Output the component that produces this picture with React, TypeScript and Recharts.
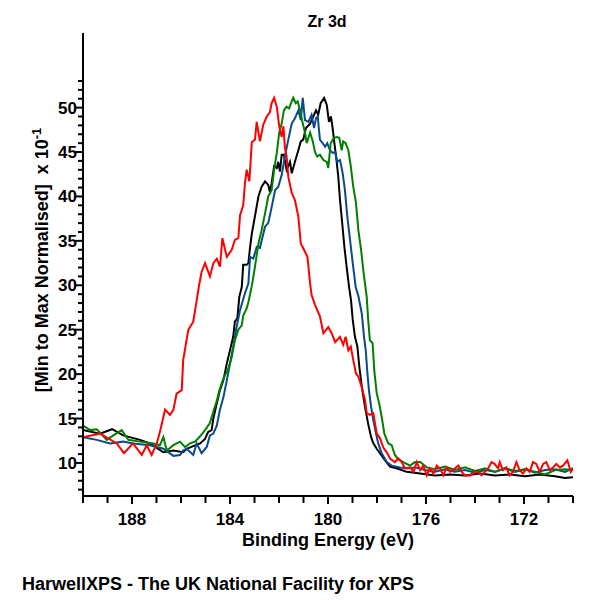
import { LineChart, Line, XAxis, YAxis } from 'recharts'

// Binding energy (eV) / normalised intensity (x 10^-1) pairs
const blackSeries: [number, number][] = [
  [190.0, 13.7], [189.31, 13.3], [188.81, 13.8], [188.36, 13.1], [187.67, 12.6], [187.27, 12.2],
  [186.72, 11.2], [186.31, 11.4], [185.91, 11.2], [185.77, 11.6], [185.5, 11.9], [185.22, 12.2],
  [185.02, 12.7], [184.89, 13.5], [184.75, 13.7], [184.68, 15.0], [184.54, 16.7], [184.41, 18.2],
  [184.27, 19.3], [184.13, 21.2], [184.0, 22.7], [183.87, 24.2], [183.8, 25.9], [183.7, 26.3],
  [183.62, 28.7], [183.52, 29.8], [183.46, 32.3], [183.32, 32.3], [183.25, 32.5], [183.18, 34.3],
  [183.11, 35.8], [182.98, 37.8], [182.84, 40.0], [182.71, 41.1], [182.57, 41.7], [182.44, 41.3],
  [182.37, 40.5], [182.3, 41.5], [182.2, 43.4], [182.09, 43.2], [182.03, 43.9], [181.96, 42.8],
  [181.89, 44.7], [181.8, 44.7], [181.69, 43.0], [181.55, 43.9], [181.48, 42.6], [181.35, 43.9],
  [181.21, 45.2], [181.11, 46.2], [181.01, 46.4], [180.9, 47.7], [180.73, 48.2], [180.6, 49.0],
  [180.49, 49.7], [180.4, 49.2], [180.3, 50.5], [180.16, 51.1], [180.05, 50.3], [179.96, 48.4],
  [179.88, 49.0], [179.81, 47.7], [179.74, 46.0], [179.67, 44.5], [179.58, 42.2], [179.51, 39.6],
  [179.42, 37.0], [179.33, 34.3], [179.24, 32.1], [179.14, 29.8], [179.06, 28.3], [178.99, 26.1],
  [178.9, 24.2], [178.8, 23.1], [178.72, 20.8], [178.62, 18.6], [178.49, 16.3], [178.36, 14.4],
  [178.24, 12.9], [178.15, 12.2], [178.01, 11.6], [177.88, 11.1], [177.67, 10.3], [177.47, 9.6],
  [177.2, 9.4], [176.79, 9.0], [176.24, 8.8], [175.63, 8.6], [175.02, 8.7], [174.41, 8.6],
  [173.8, 8.8], [173.18, 8.6], [172.57, 8.7], [171.96, 8.5], [171.35, 8.7], [170.73, 8.5],
  [170.33, 8.3], [170.0, 8.4],
]

const blueSeries: [number, number][] = [
  [190.0, 12.9], [189.44, 12.6], [188.9, 12.2], [188.36, 12.4], [187.95, 12.2], [187.27, 12.0],
  [186.72, 11.6], [186.31, 10.8], [186.04, 10.9], [185.91, 11.4], [185.77, 11.6], [185.5, 10.9],
  [185.36, 12.2], [185.16, 11.1], [184.95, 11.8], [184.82, 13.1], [184.68, 13.3], [184.54, 14.2],
  [184.41, 16.0], [184.27, 17.4], [184.13, 19.3], [184.0, 21.2], [183.87, 23.1], [183.73, 25.3],
  [183.59, 27.2], [183.39, 29.1], [183.25, 30.2], [183.18, 33.2], [183.05, 33.0], [182.91, 34.3],
  [182.78, 34.2], [182.57, 36.6], [182.44, 37.0], [182.3, 38.8], [182.16, 40.7], [182.03, 41.1],
  [181.89, 42.4], [181.76, 44.5], [181.62, 46.4], [181.48, 48.2], [181.35, 48.8], [181.21, 49.7],
  [181.11, 48.6], [181.03, 51.1], [180.94, 48.6], [180.8, 48.4], [180.67, 49.2], [180.57, 47.7],
  [180.49, 48.8], [180.42, 49.0], [180.33, 46.4], [180.22, 46.0], [180.12, 45.6], [180.03, 46.0],
  [179.92, 45.2], [179.81, 44.9], [179.71, 45.0], [179.62, 43.9], [179.51, 44.1], [179.4, 42.6],
  [179.31, 40.7], [179.21, 37.7], [179.1, 35.1], [178.99, 32.5], [178.87, 29.8], [178.76, 28.8],
  [178.62, 26.8], [178.53, 24.2], [178.46, 22.7], [178.4, 20.4], [178.33, 18.2], [178.24, 16.3],
  [178.15, 14.8], [178.04, 13.3], [177.95, 12.2], [177.81, 11.1], [177.6, 10.1], [177.4, 9.7],
  [177.06, 9.5], [176.79, 9.4], [176.45, 9.5], [176.04, 9.2], [175.63, 9.0], [175.22, 9.3],
  [174.82, 9.0], [174.41, 9.2], [174.0, 8.9], [173.59, 9.2], [173.18, 9.0], [172.78, 9.4],
  [172.37, 9.0], [171.96, 9.3], [171.55, 8.9], [171.14, 9.2], [170.73, 9.3], [170.33, 9.0],
  [170.0, 9.4],
]

const greenSeries: [number, number][] = [
  [190.0, 14.2], [189.71, 13.7], [189.44, 13.8], [189.03, 12.6], [188.76, 13.1], [188.42, 13.7],
  [188.15, 12.6], [187.67, 12.4], [187.13, 12.2], [186.86, 12.0], [186.72, 12.9], [186.58, 11.4],
  [186.31, 12.0], [186.04, 12.4], [185.84, 11.8], [185.63, 12.2], [185.43, 12.4], [185.22, 13.0],
  [185.02, 13.7], [184.82, 14.5], [184.68, 15.8], [184.54, 17.0], [184.41, 18.4], [184.27, 19.5],
  [184.07, 20.6], [183.93, 21.9], [183.8, 23.8], [183.66, 25.0], [183.52, 25.5], [183.46, 26.6],
  [183.32, 27.4], [183.25, 28.1], [183.11, 29.9], [182.98, 32.1], [182.84, 34.7], [182.71, 36.2],
  [182.57, 38.1], [182.44, 40.0], [182.3, 40.7], [182.2, 43.0], [182.09, 44.9], [181.99, 47.2],
  [181.89, 48.2], [181.8, 49.7], [181.69, 50.1], [181.59, 49.9], [181.51, 50.5], [181.42, 51.1],
  [181.32, 50.5], [181.24, 50.7], [181.14, 49.7], [181.03, 48.2], [180.94, 47.2], [180.87, 46.0],
  [180.73, 47.2], [180.62, 46.2], [180.53, 45.0], [180.44, 44.5], [180.33, 44.7], [180.19, 44.1],
  [180.05, 43.9], [179.99, 43.2], [179.89, 46.0], [179.76, 46.6], [179.64, 46.7], [179.54, 46.6],
  [179.44, 45.2], [179.38, 46.2], [179.28, 46.0], [179.17, 45.2], [179.07, 43.4], [178.97, 41.1],
  [178.86, 39.3], [178.76, 36.2], [178.65, 34.0], [178.56, 31.7], [178.49, 30.2], [178.42, 28.7],
  [178.36, 26.1], [178.29, 23.8], [178.18, 23.5], [178.11, 20.4], [178.01, 17.8], [177.91, 16.7],
  [177.81, 15.2], [177.7, 13.3], [177.54, 12.2], [177.4, 12.0], [177.27, 10.9], [177.13, 10.4],
  [176.93, 10.1], [176.65, 9.7], [176.45, 10.1], [176.24, 10.1], [175.97, 9.5], [175.63, 9.3],
  [175.22, 9.6], [174.82, 9.2], [174.41, 9.5], [174.0, 9.1], [173.59, 9.4], [173.18, 9.0],
  [172.78, 9.4], [172.37, 9.1], [171.96, 9.3], [171.55, 9.0], [171.14, 8.7], [170.73, 9.2],
  [170.33, 9.3], [170.0, 9.2],
]

const redSeries: [number, number][] = [
  [190.0, 12.9], [189.3, 13.3], [188.62, 12.2], [188.33, 11.1], [187.96, 12.2], [187.6, 10.9],
  [187.4, 12.0], [187.2, 10.9], [186.99, 12.2], [186.86, 13.5], [186.65, 16.0], [186.45, 15.4],
  [186.31, 16.0], [186.18, 17.8], [185.97, 18.2], [185.91, 21.6], [185.7, 25.0], [185.5, 25.9],
  [185.36, 28.3], [185.25, 30.2], [185.16, 31.5], [185.02, 32.5], [184.82, 31.0], [184.68, 32.5],
  [184.54, 33.0], [184.41, 32.1], [184.31, 35.3], [184.13, 33.2], [183.93, 34.0], [183.8, 35.1],
  [183.66, 35.3], [183.59, 37.9], [183.46, 39.0], [183.39, 41.5], [183.32, 43.0], [183.21, 41.7],
  [183.11, 46.1], [182.98, 46.4], [182.91, 48.4], [182.78, 46.2], [182.64, 48.1], [182.5, 49.0],
  [182.37, 49.5], [182.3, 50.5], [182.2, 51.1], [182.09, 50.1], [181.99, 47.9], [181.89, 46.7],
  [181.82, 47.9], [181.76, 45.5], [181.69, 44.5], [181.62, 42.2], [181.48, 40.4], [181.35, 39.6],
  [181.21, 37.7], [181.11, 34.7], [180.98, 34.0], [180.84, 33.2], [180.73, 30.2], [180.67, 28.9],
  [180.53, 27.8], [180.33, 26.5], [180.19, 24.6], [179.99, 25.3], [179.85, 24.6], [179.71, 23.6],
  [179.51, 24.2], [179.38, 23.3], [179.28, 24.2], [179.17, 22.7], [179.07, 23.1], [178.97, 21.6],
  [178.86, 20.1], [178.76, 19.7], [178.62, 18.5], [178.49, 17.1], [178.42, 15.6], [178.29, 15.4],
  [178.15, 15.6], [178.01, 13.3], [177.88, 12.8], [177.74, 11.7], [177.6, 11.2], [177.47, 10.5],
  [177.27, 10.1], [177.13, 10.5], [176.99, 10.1], [176.86, 9.4], [176.65, 9.5], [176.51, 9.0],
  [176.38, 10.1], [176.24, 9.2], [176.11, 9.7], [175.97, 8.6], [175.84, 9.4], [175.7, 8.8],
  [175.56, 9.7], [175.43, 9.4], [175.29, 8.6], [175.16, 9.5], [175.02, 9.0], [174.82, 9.4],
  [174.68, 9.7], [174.54, 9.0], [174.41, 8.6], [174.2, 8.6], [174.0, 9.0], [173.87, 9.0],
  [173.73, 8.6], [173.46, 9.4], [173.33, 10.1], [173.2, 9.9], [173.06, 9.4], [172.99, 10.1],
  [172.86, 9.2], [172.72, 9.5], [172.59, 8.6], [172.45, 9.0], [172.31, 10.1], [172.18, 9.2],
  [172.04, 8.8], [171.9, 9.4], [171.77, 9.0], [171.63, 10.1], [171.5, 9.9], [171.36, 9.0],
  [171.22, 9.9], [171.09, 10.1], [170.95, 9.2], [170.82, 9.5], [170.68, 9.9], [170.54, 9.5],
  [170.41, 9.7], [170.23, 10.3], [170.09, 9.0], [170.0, 9.4],
]

const xTicks = [170, 171, 172, 173, 174, 175, 176, 177, 178, 179, 180, 181, 182, 183, 184, 185, 186, 187, 188, 189, 190]
const xLabelled = [172, 176, 180, 184, 188]
const yTicks = [7, 8, 9, 10, 11, 12, 13, 14, 15, 16, 17, 18, 19, 20, 21, 22, 23, 24, 25, 26, 27, 28, 29, 30,
  31, 32, 33, 34, 35, 36, 37, 38, 39, 40, 41, 42, 43, 44, 45, 46, 47, 48, 49, 50, 51, 52, 53]
const yLabelled = [10, 15, 20, 25, 30, 35, 40, 45, 50]

const FONT = '"Liberation Sans", Arial, sans-serif'

const toPoints = (s: [number, number][]) => s.map(([e, v]) => ({ e, v }))

const series = [
  { name: 'black', color: '#000000', data: toPoints(blackSeries) },
  { name: 'blue', color: '#0a4a8c', data: toPoints(blueSeries) },
  { name: 'green', color: '#008000', data: toPoints(greenSeries) },
  { name: 'red', color: '#ff0000', data: toPoints(redSeries) },
]

function XTick(props: any) {
  const { x, y, payload } = props
  const labelled = xLabelled.includes(payload.value)
  return (
    <g>
      <line x1={x} x2={x} y1={y} y2={y + (labelled ? 8 : 7)} stroke="#000" strokeWidth={2} />
      {labelled && (
        <text x={x} y={y + 29} textAnchor="middle" fontFamily={FONT} fontWeight="bold" fontSize={17} fill="#000">
          {payload.value}
        </text>
      )}
    </g>
  )
}

function YTick(props: any) {
  const { x, y, payload } = props
  const labelled = yLabelled.includes(payload.value)
  return (
    <g>
      <line x1={x} x2={x - (labelled ? 8 : 5)} y1={y} y2={y} stroke="#000" strokeWidth={2} />
      {labelled && (
        <text x={x - 6} y={y + 6} textAnchor="end" fontFamily={FONT} fontWeight="bold" fontSize={17} fill="#000">
          {payload.value}
        </text>
      )}
    </g>
  )
}

export default function App() {
  return (
    <div style={{ position: 'absolute', left: 0, top: 0, width: 600, height: 600, background: '#fff' }}>
      <LineChart width={600} height={600} margin={{ top: 33, right: 27, bottom: 74, left: 23 }}>
        <XAxis
          dataKey="e"
          type="number"
          domain={[170, 190]}
          reversed
          allowDataOverflow
          ticks={xTicks}
          interval={0}
          tick={<XTick />}
          tickLine={false}
          tickSize={0}
          tickMargin={0}
          height={30}
          axisLine={{ stroke: '#000', strokeWidth: 2 }}
        />
        <XAxis
          xAxisId="top"
          orientation="top"
          type="number"
          domain={[170, 190]}
          reversed
          tick={false}
          tickLine={false}
          height={0}
          axisLine={{ stroke: '#000', strokeWidth: 2 }}
        />
        <YAxis
          type="number"
          domain={[6.28, 58.4]}
          allowDataOverflow
          ticks={yTicks}
          interval={0}
          tick={<YTick />}
          tickLine={false}
          tickSize={0}
          tickMargin={0}
          width={60}
          axisLine={{ stroke: '#000', strokeWidth: 2 }}
        />
        <YAxis
          yAxisId="right"
          orientation="right"
          type="number"
          domain={[6.28, 58.4]}
          tick={false}
          tickLine={false}
          width={0}
          axisLine={{ stroke: '#000', strokeWidth: 2 }}
        />
        {series.map((s) => (
          <Line
            key={s.name}
            data={s.data}
            dataKey="v"
            type="linear"
            stroke={s.color}
            strokeWidth={2}
            dot={false}
            activeDot={false}
            isAnimationActive={false}
          />
        ))}
      </LineChart>
      <svg width={600} height={600} style={{ position: 'absolute', left: 0, top: 0, pointerEvents: 'none' }}>
        <text x={327} y={27} textAnchor="middle" fontFamily={FONT} fontWeight="bold" fontSize={16} fill="#000">
          Zr 3d
        </text>
        <text x={328} y={546} textAnchor="middle" fontFamily={FONT} fontWeight="bold" fontSize={18} fill="#000">
          Binding Energy (eV)
        </text>
        <text transform="translate(48,260) rotate(-90)" textAnchor="middle" fontFamily={FONT} fontWeight="bold" fontSize={18} fill="#000">
          {'[Min to Max Normalised]\u00a0\u00a0x 10'}
          <tspan dy={-7} fontSize={13}>-1</tspan>
        </text>
        <text x={22} y={590} fontFamily={FONT} fontWeight="bold" fontSize={18} fill="#000">
          HarwellXPS - The UK National Facility for XPS
        </text>
      </svg>
    </div>
  )
}
